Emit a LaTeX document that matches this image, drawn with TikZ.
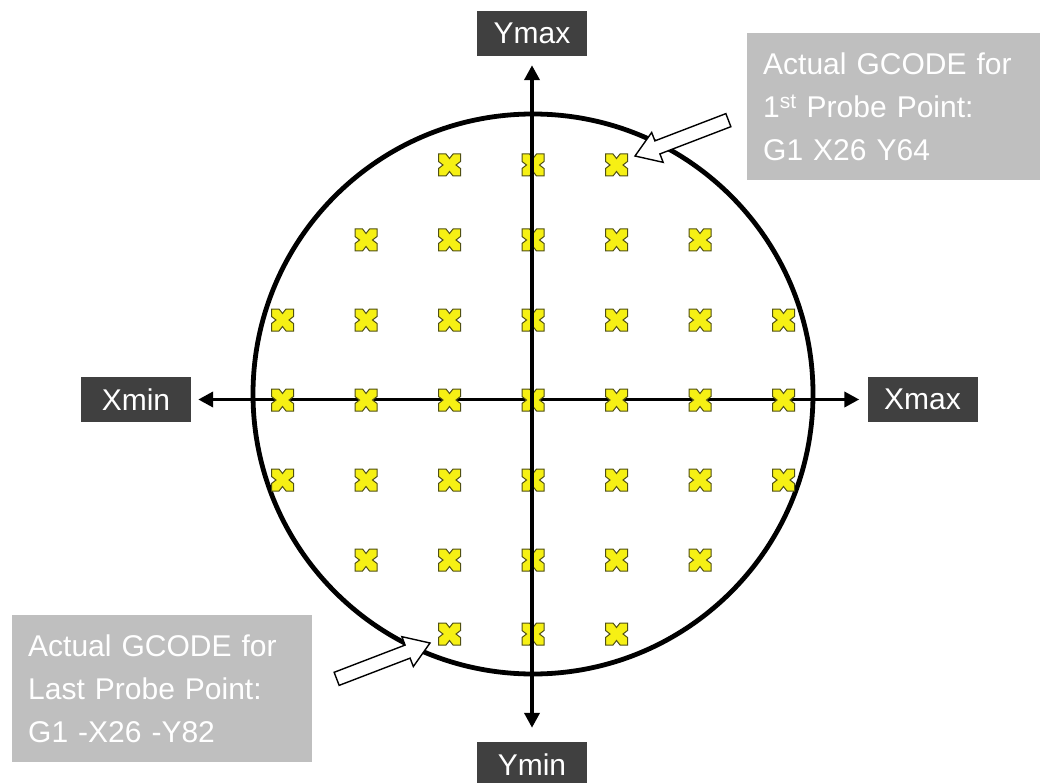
\documentclass[tikz,border=0pt]{standalone}
\usepackage{fontspec}
\setmainfont{Liberation Sans}
\usetikzlibrary{arrows.meta}
\definecolor{labelgray}{RGB}{191,191,191}
\definecolor{axisbox}{RGB}{64,64,64}
\definecolor{probeyellow}{RGB}{246,240,20}
\definecolor{probeedge}{RGB}{80,80,20}
\begin{document}
\begin{tikzpicture}[x=1pt,y=-1pt,
  axislabel/.style={fill=axisbox,text=white,font=\fontsize{30}{32}\selectfont,
    minimum width=110pt,minimum height=45pt,inner sep=0pt},
  notebox/.style={fill=labelgray,text=white,font=\fontsize{30}{43}\selectfont,
    align=left,text width=#1,inner xsep=16pt,inner ysep=0pt,minimum height=147pt,anchor=north west},
  axisline/.style={line width=3.8pt,
    {Triangle[length=15pt,width=15pt]}-{Triangle[length=15pt,width=15pt]}},
  rimline/.style={line width=4.8pt},
  hollowarrow/.style={draw=black,fill=white,line width=1.4pt,line join=miter},
  probeline/.style={draw=probeedge,fill=probeyellow,line width=1pt},
  probe/.pic={\path[probeline] (-11,-11) -- (-3.5,-11) -- (0,-6.5) -- (3.5,-11) -- (11,-11)
      -- (11,-3.5) -- (6.5,0) -- (11,3.5) -- (11,11) -- (3.5,11) -- (0,6.5) -- (-3.5,11)
      -- (-11,11) -- (-11,3.5) -- (-6.5,0) -- (-11,-3.5) -- cycle;}
]
\useasboundingbox (0,0) rectangle (1040,783);

% wafer outline
\draw[rimline] (533,394) circle[radius=280pt];

% axis labels
\node[axislabel] (xmin) at (136,399.5) {Xmin};
\node[axislabel] (xmax) at (922.5,399.5) {Xmax};
\node[axislabel] (ymax) at (532,33.5) {Ymax};
\node[axislabel] (ymin) at (532,764.5) {Ymin};

% horizontal axis
\draw[axisline,shorten <=7pt,shorten >=8pt] (xmin) -- (xmax);

% probe points
\foreach \y/\cols in {165/{449.5,533,616.5},
                      240/{366,449.5,533,616.5,700},
                      320/{282.5,366,449.5,533,616.5,700,783.5},
                      400/{282.5,366,449.5,533,616.5,700,783.5},
                      480/{282.5,366,449.5,533,616.5,700,783.5},
                      560/{366,449.5,533,616.5,700},
                      634/{449.5,533,616.5}}{
  \foreach \x in \cols { \pic at (\x,\y) {probe}; }
}

% vertical axis
\draw[axisline,shorten <=9pt,shorten >=14pt] (ymax) -- (ymin);

% note boxes
\node[notebox=280pt] (first) at (747,33)
  {Actual GCODE for\\1\textsuperscript{st} Probe Point:\\G1 X26 Y64};
\node[notebox=268pt] (last) at (12,615)
  {Actual GCODE for\\Last Probe Point:\\G1 -X26 -Y82};

% hollow pointer arrows
\begin{scope}[shift={(635,156)},rotate=21]
  \draw[hollowarrow] (0,0) -- (24,16) -- (24,7) -- (100,7) -- (100,-7) -- (24,-7) -- (24,-16) -- cycle;
\end{scope}
\begin{scope}[shift={(430,643)},rotate=201]
  \draw[hollowarrow] (0,0) -- (24,16) -- (24,7) -- (100,7) -- (100,-7) -- (24,-7) -- (24,-16) -- cycle;
\end{scope}
\end{tikzpicture}
\end{document}
